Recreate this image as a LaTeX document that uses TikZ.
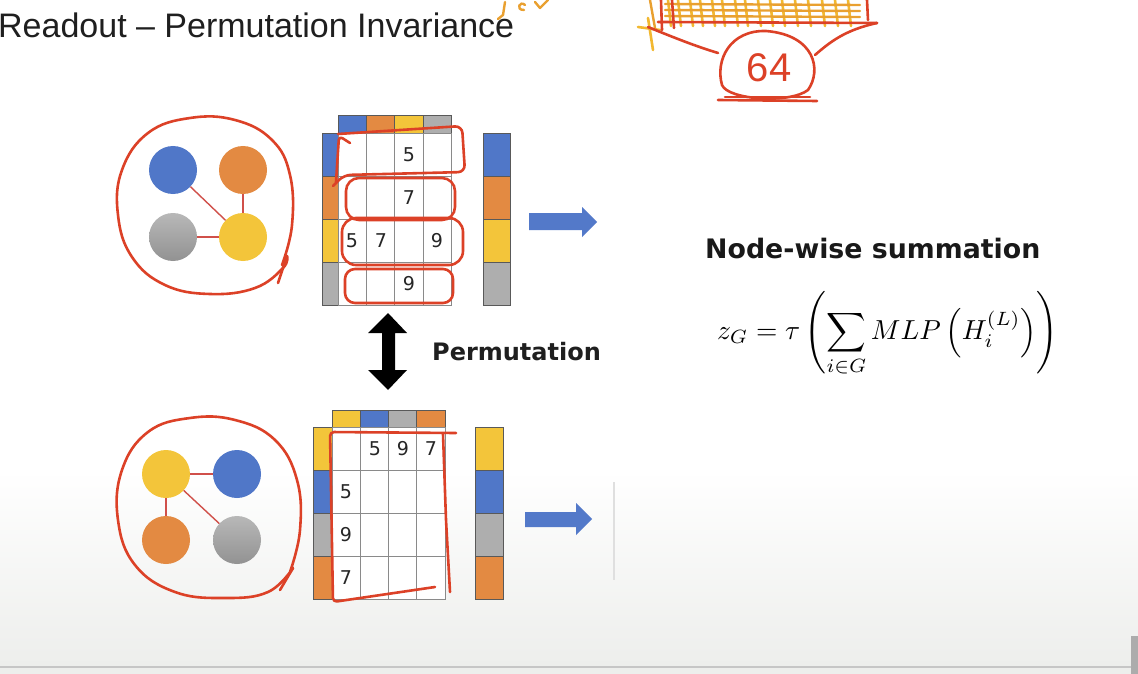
\documentclass[tikz,border=0pt]{standalone}
\usepackage{fontspec}
\setmainfont{Liberation Sans}
\newfontfamily\dejavu{DejaVu Sans}
\usepackage{amsmath}
\usepackage{graphicx}
\definecolor{cb}{HTML}{5077C8}
\definecolor{co}{HTML}{E38A42}
\definecolor{cy}{HTML}{F3C53A}
\definecolor{cg}{HTML}{AEAEAE}
\definecolor{gridgray}{HTML}{8A8A8A}
\definecolor{edgered}{HTML}{D0504A}
\definecolor{penred}{HTML}{DC4127}
\definecolor{penorange}{HTML}{E9A030}
\definecolor{penyellow}{HTML}{F2B830}
\definecolor{arrowblue}{HTML}{5379C9}
\definecolor{bgray}{HTML}{EDEEEC}
\definecolor{gtop}{HTML}{B8B8B8}
\definecolor{gbot}{HTML}{929292}
\begin{document}
\begin{tikzpicture}[x=1pt,y=-1pt,
  cell/.style={draw=gridgray, line width=0.9pt},
  strip/.style={draw=gray!70!black, line width=0.6pt},
  num/.style={font=\dejavu\fontsize{19}{19}\selectfont, text=black!85, inner sep=0pt},
  gnode/.style={circle, minimum size=48pt, inner sep=0pt, draw=none},
  graynode/.style={gnode},
  gshade/.style={top color=gtop, bottom color=gbot},
  gedge/.style={draw=edgered, line width=1.4pt},
  pen/.style={draw=penred, line width=2.6pt, line cap=round, line join=round},
  opens/.style={draw=penorange, line width=2.4pt, line cap=round, line join=round},
  ypens/.style={draw=penyellow, line width=2.6pt, line cap=round, line join=round},
  bluearrow/.style={fill=arrowblue}]
\useasboundingbox (0,0) rectangle (1138,674);
% background
\fill[white] (0,0) rectangle (1138,674);
\shade[top color=white, bottom color=bgray] (0,470) rectangle (1138,666);
\fill[bgray] (0,666) rectangle (1138,674);
\draw[color=gray!45, line width=1.2pt] (0,667) -- (1138,667);
\fill[gray!65] (1131,636) rectangle (1138,674);

% title
\node[anchor=west, font=\fontsize{34}{34}\selectfont, text=black!88, inner sep=0pt] (title) at (-2,25) {Readout – Permutation Invariance};

% ---------- top graph
\shade[gshade] (173,237) circle[radius=24];
\node[gnode, fill=cb] (tb) at (173,170) {};
\node[gnode, fill=co] (to) at (243,170) {};
\node[graynode] (tg) at (173,237) {};
\node[gnode, fill=cy] (ty) at (243,237) {};
\draw[gedge] (tb) -- (ty);
\draw[gedge] (to) -- (ty);
\draw[gedge] (tg) -- (ty);

% top matrix strips
\foreach \c [count=\i from 0] in {cb,co,cy,cg}{
  \filldraw[strip, fill=\c] (338+28.35*\i,115) rectangle ++(28.35,18);
  \filldraw[strip, fill=\c] (322,133+43*\i) rectangle ++(18,43);
  \filldraw[strip, fill=\c] (483,133+43*\i) rectangle ++(27,43);
}
\foreach \i in {0,...,3}{\foreach \j in {0,...,3}{
  \filldraw[cell, fill=white] (338+28.35*\i,133+43*\j) rectangle ++(28.35,43);}}
\node[num] (t13) at (409,155) {5};
\node[num] (t23) at (409,198) {7};
\node[num] (t31) at (352,241) {5};
\node[num] (t32) at (381,241) {7};
\node[num] (t34) at (437,241) {9};
\node[num] (t43) at (409,284) {9};

% top arrow
\fill[bluearrow] (529,213) -- (582,213) -- (582,207) -- (597,222) -- (582,237) -- (582,230) -- (529,230) -- cycle;

% double arrow
\fill[black] (388,313) -- (407,333) -- (395,333) -- (395,370) -- (407,370) -- (388,390) -- (368,370) -- (382,370) -- (382,333) -- (368,333) -- cycle;
\node[anchor=west, font=\dejavu\bfseries\fontsize{24}{24}\selectfont, text=black!88, inner sep=0pt] (perm) at (432,352) {Permutation};

% ---------- bottom graph
\shade[gshade] (237,540) circle[radius=24];
\node[gnode, fill=cy] (by) at (166,474) {};
\node[gnode, fill=cb] (bb) at (237,474) {};
\node[gnode, fill=co] (bo) at (166,540) {};
\node[graynode] (bg) at (237,540) {};
\draw[gedge] (by) -- (bb);
\draw[gedge] (by) -- (bo);
\draw[gedge] (by) -- (bg);

\foreach \c [count=\i from 0] in {cy,cb,cg,co}{
  \filldraw[strip, fill=\c] (332+28.25*\i,410) rectangle ++(28.25,17);
  \filldraw[strip, fill=\c] (313,427+43*\i) rectangle ++(20,43);
  \filldraw[strip, fill=\c] (475,427+43*\i) rectangle ++(28,43);
}
\foreach \i in {0,...,3}{\foreach \j in {0,...,3}{
  \filldraw[cell, fill=white] (332+28.25*\i,427+43*\j) rectangle ++(28.25,43);}}
\node[num] (b12) at (375,449) {5};
\node[num] (b13) at (403,449) {9};
\node[num] (b14) at (431,449) {7};
\node[num] (b21) at (346,492) {5};
\node[num] (b31) at (346,535) {9};
\node[num] (b41) at (346,578) {7};

\fill[bluearrow] (525,512) -- (576,512) -- (576,503) -- (592,519) -- (576,535) -- (576,527) -- (525,527) -- cycle;
\draw[gray!25, line width=2pt] (614,482) -- (614,580);

% ---------- right text
\node[anchor=west, font=\dejavu\bfseries\fontsize{26.8}{27}\selectfont, text=black!90, inner sep=0pt] (nws) at (705,249) {Node-wise summation};
\node[anchor=west, inner sep=0pt] (formula) at (717,334) {\scalebox{2.75}{$\displaystyle z_G=\tau\left(\sum_{i\in G} MLP\left(H_i^{(L)}\right)\right)$}};

% ---------- pen annotations
\draw[pen] plot[smooth, tension=0.7] coordinates {(282,265) (292,225) (290,175) (272,140) (235,120) (190,118) (148,133) (122,170) (118,215) (132,257) (165,285) (210,294) (255,288) (283,268) (287,256)};
\draw[pen] (287,256) -- (278,283);
\draw[pen] plot[smooth, tension=0.7] coordinates {(290,572) (300,530) (297,480) (275,440) (235,420) (190,418) (148,432) (122,470) (118,520) (135,565) (175,592) (225,598) (268,592) (293,568)};
\draw[pen] (293,568) -- (280,590);
% rows top
\draw[pen, rounded corners=4pt] (350,143) -- (339,136) -- (336,182);
\draw[pen, rounded corners=7pt] (338,134) -- (462,126) -- (465,172) -- (344,175) -- (333,186);
\draw[pen, rounded corners=13pt] (346,178) rectangle (455,220);
\draw[pen, rounded corners=14pt] (342,218) rectangle (463,265);
\draw[pen, rounded corners=10pt] (345,269) rectangle (453,303);
% bottom column
\draw[pen, rounded corners=4pt] (435,587) -- (333,602) -- (330,432) -- (456,433);
\draw[pen, rounded corners=4pt] (443,434) -- (446,520) -- (450,592);

% ---------- top scribbles
\draw[opens] (505,2) -- (503,15) -- (498,19);
\draw[opens] (525,5) .. controls (520,0) and (515,10) .. (524,10);
\draw[opens] (535,2) -- (540,8) -- (548,0);
\foreach \x in {668,678,690,700,712,722,735,745,758,770,782,795,808,822,835,848}{
  \draw[ypens] (\x,0) -- (\x+3,26);
}
\foreach \y in {4,10,16}{
  \draw[opens] (665,\y) -- (860,\y+1);
}
\draw[opens] (650,0) -- (655,28);
\draw[ypens] (638,27) -- (660,30);
\draw[ypens] (648,18) -- (653,50);
\draw[pen] (661,0) -- (662,30);
\draw[pen] (672,0) -- (674,28);
\draw[pen] (648,27) .. controls (675,38) and (695,46) .. (718,53);
\draw[pen] (658,22) -- (877,23);
\draw[pen] (877,23) .. controls (845,30) and (830,42) .. (815,55);
\draw[pen] (867,0) -- (868,20);
\draw[pen] (766,31) .. controls (730,30) and (715,60) .. (722,85) .. controls (728,100) and (790,104) .. (808,90) .. controls (822,70) and (815,35) .. (766,31);
\draw[pen] (718,100) -- (817,101);
\draw[pen] (725,97) -- (810,97);
\node[text=penred, font=\fontsize{40}{40}\selectfont, inner sep=0pt] (sixtyfour) at (769,68) {64};
\end{tikzpicture}
\end{document}
